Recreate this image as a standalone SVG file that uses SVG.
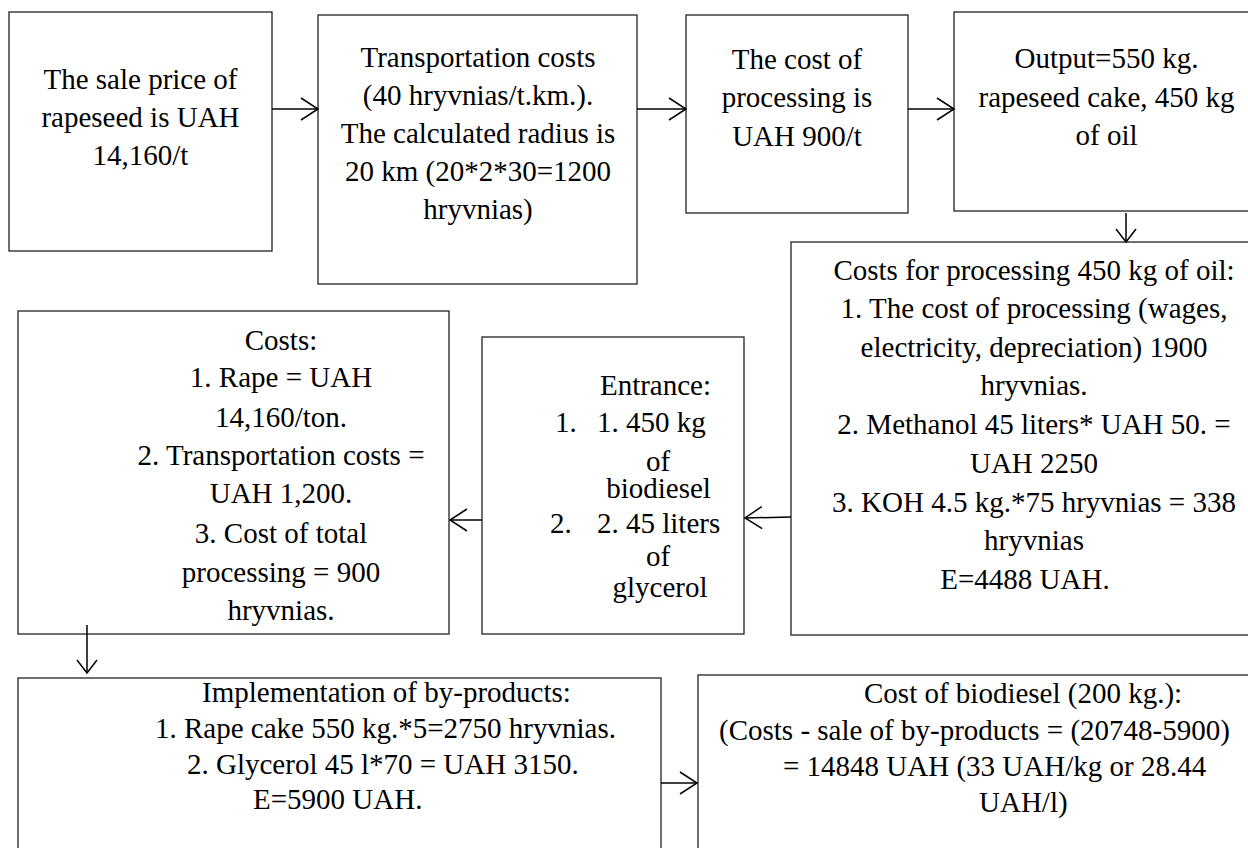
<svg xmlns="http://www.w3.org/2000/svg" width="1248" height="848" viewBox="0 0 1248 848">
<style>
  .box { fill: #fff; stroke: #222; stroke-width: 1.3; }
  .t { font-family: 'Liberation Serif', 'Tinos', 'DejaVu Serif', serif; font-size: 29px; fill: #000; }
  .c { text-anchor: middle; }
  .conn { stroke: #000; stroke-width: 1.5; fill: none; }
</style>
<defs>
  <marker id="ah" markerUnits="userSpaceOnUse" markerWidth="40" markerHeight="40" viewBox="-20 -20 40 40" refX="0" refY="0" orient="auto" overflow="visible">
    <path d="M-17,-11 L0,0 L-17,11" fill="none" stroke="#000" stroke-width="1.5"/>
  </marker>
  <marker id="ahs" markerUnits="userSpaceOnUse" markerWidth="40" markerHeight="40" viewBox="-20 -20 40 40" refX="0" refY="0" orient="auto" overflow="visible">
    <path d="M-13,-10 L0,0 L-13,10" fill="none" stroke="#000" stroke-width="1.5"/>
  </marker>
</defs>
<rect width="1248" height="848" fill="#fff"/>

<g id="node-sale-price">
  <rect class="box" x="9" y="12" width="263" height="239"/>
  <text class="t c" x="140.5" y="89">The sale price of</text>
  <text class="t c" x="140.5" y="127">rapeseed is UAH</text>
  <text class="t c" x="140.5" y="165">14,160/t</text>
</g>

<g id="node-transport">
  <rect class="box" x="318" y="15" width="319" height="269"/>
  <text class="t c" x="478" y="67">Transportation costs</text>
  <text class="t c" x="478" y="105">(40 hryvnias/t.km.).</text>
  <text class="t c" x="478" y="143">The calculated radius is</text>
  <text class="t c" x="478" y="181">20 km (20*2*30=1200</text>
  <text class="t c" x="478" y="219">hryvnias)</text>
</g>

<g id="node-processing-cost">
  <rect class="box" x="686" y="15" width="222" height="198"/>
  <text class="t c" x="797" y="69">The cost of</text>
  <text class="t c" x="797" y="107">processing is</text>
  <text class="t c" x="797" y="146">UAH 900/t</text>
</g>

<g id="node-output">
  <rect class="box" x="954" y="12" width="310" height="199"/>
  <text class="t c" x="1106.5" y="68">Output=550 kg.</text>
  <text class="t c" x="1106.5" y="107">rapeseed cake, 450 kg</text>
  <text class="t c" x="1106.5" y="145">of oil</text>
</g>

<g id="node-oil-processing">
  <rect class="box" x="791" y="242" width="473" height="393"/>
  <text class="t c" x="1034" y="280">Costs for processing 450 kg of oil:</text>
  <text class="t c" x="1034" y="318">1. The cost of processing (wages,</text>
  <text class="t c" x="1034" y="357">electricity, depreciation) 1900</text>
  <text class="t c" x="1034" y="395">hryvnias.</text>
  <text class="t c" x="1034" y="434">2. Methanol 45 liters* UAH 50. =</text>
  <text class="t c" x="1034" y="473">UAH 2250</text>
  <text class="t c" x="1034" y="512">3. KOH 4.5 kg.*75 hryvnias = 338</text>
  <text class="t c" x="1034" y="550">hryvnias</text>
  <text class="t c" x="1025" y="589">E=4488 UAH.</text>
</g>

<g id="node-entrance">
  <rect class="box" x="482" y="337" width="262" height="297"/>
  <text class="t c" x="655.5" y="395">Entrance:</text>
  <text class="t" x="555" y="432">1.</text>
  <text class="t" x="597" y="432">1. 450 kg</text>
  <text class="t c" x="658" y="471">of</text>
  <text class="t c" x="658.5" y="498">biodiesel</text>
  <text class="t" x="550" y="533">2.</text>
  <text class="t" x="597" y="533">2. 45 liters</text>
  <text class="t c" x="658" y="566">of</text>
  <text class="t c" x="660" y="597">glycerol</text>
</g>

<g id="node-costs">
  <rect class="box" x="18" y="311" width="431" height="323"/>
  <text class="t c" x="281" y="350">Costs:</text>
  <text class="t c" x="281" y="387">1. Rape = UAH</text>
  <text class="t c" x="281" y="427">14,160/ton.</text>
  <text class="t c" x="281" y="465">2. Transportation costs =</text>
  <text class="t c" x="281" y="503">UAH 1,200.</text>
  <text class="t c" x="281" y="543">3. Cost of total</text>
  <text class="t c" x="281" y="582">processing = 900</text>
  <text class="t c" x="281" y="620">hryvnias.</text>
</g>

<g id="node-byproducts">
  <rect class="box" x="18" y="678" width="643" height="190"/>
  <text class="t" x="202" y="702">Implementation of by-products:</text>
  <text class="t" x="155" y="738">1. Rape cake 550 kg.*5=2750 hryvnias.</text>
  <text class="t" x="187" y="774">2. Glycerol 45 l*70 = UAH 3150.</text>
  <text class="t" x="253" y="809">E=5900 UAH.</text>
</g>

<g id="node-biodiesel-cost">
  <rect class="box" x="698" y="675" width="570" height="193"/>
  <text class="t" x="864" y="703">Cost of biodiesel (200 kg.):</text>
  <text class="t" x="719" y="740">(Costs - sale of by-products = (20748-5900)</text>
  <text class="t" x="783" y="776">= 14848 UAH (33 UAH/kg or 28.44</text>
  <text class="t" x="979" y="812">UAH/l)</text>
</g>

<g id="connectors">
  <line class="conn" x1="272" y1="109" x2="318" y2="109" marker-end="url(#ah)"/>
  <line class="conn" x1="637" y1="109" x2="686" y2="109" marker-end="url(#ah)"/>
  <line class="conn" x1="908" y1="109" x2="954" y2="109" marker-end="url(#ah)"/>
  <line class="conn" x1="1126" y1="213" x2="1126" y2="242" marker-end="url(#ahs)"/>
  <line class="conn" x1="791" y1="517" x2="745" y2="518" marker-end="url(#ah)"/>
  <line class="conn" x1="482" y1="520" x2="450" y2="520" marker-end="url(#ah)"/>
  <line class="conn" x1="87" y1="625" x2="87" y2="673" marker-end="url(#ahs)"/>
  <line class="conn" x1="661" y1="783" x2="697" y2="783" marker-end="url(#ah)"/>
</g>
</svg>
